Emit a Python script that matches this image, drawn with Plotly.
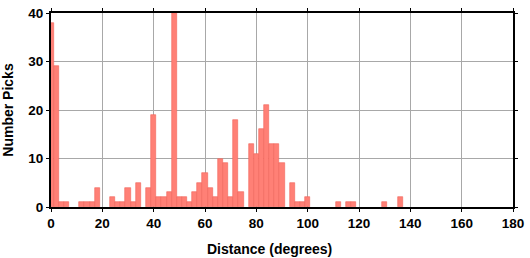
import plotly.graph_objects as go

bin_centers = list(range(0, 138, 2))
counts = [38, 29, 1, 1, 0, 0, 1, 1, 1, 4,
          0, 0, 2, 1, 1, 4, 1, 5, 0, 4,
          19, 2, 2, 3, 40, 2, 2, 1, 3, 5,
          7, 4, 2, 10, 9, 2, 18, 3, 0, 13,
          11, 16, 21, 13, 13, 9, 0, 5, 1, 1,
          2, 0, 0, 0, 0, 0, 1, 0, 1, 1,
          0, 0, 0, 0, 0, 1, 0, 0, 2]

x_ticks = list(range(0, 181, 20))
y_ticks = list(range(0, 41, 10))

FONT = "Liberation Sans, Arial, sans-serif"

fig = go.Figure(go.Bar(
    x=bin_centers, y=[c if c > 0 else None for c in counts], width=2,
    marker=dict(color="rgb(255,128,118)", line=dict(color="rgb(240,100,90)", width=0.6)),
))

fig.update_layout(
    width=530, height=258,
    margin=dict(l=51, r=11, t=6, b=51),
    plot_bgcolor="white", paper_bgcolor="white",
    showlegend=False, bargap=0,
    font=dict(family=FONT, color="black"),
)
axis_common = dict(
    showline=True, linecolor="black", linewidth=2, mirror="ticks",
    ticks="outside", ticklen=3, tickcolor="black", tickwidth=1,
    showgrid=True, gridcolor="#a8a8a8", gridwidth=1, zeroline=False,
    tickfont=dict(family=FONT, size=13.5, color="black", weight="bold"),
    ticklabeloverflow="allow",
)
fig.update_xaxes(range=[0, 180], tickvals=x_ticks, **axis_common)
fig.update_yaxes(range=[0, 40], tickvals=y_ticks,
                 title=dict(text="<b>Number Picks</b>", font=dict(size=14), standoff=11),
                 **axis_common)

fig.add_annotation(
    text="<b>Distance (degrees)</b>", xref="paper", yref="paper",
    x=0.472, y=0, xanchor="center", yanchor="middle", yshift=-42,
    showarrow=False, font=dict(family=FONT, size=14, color="black"),
)

fig.write_html("out.html")
